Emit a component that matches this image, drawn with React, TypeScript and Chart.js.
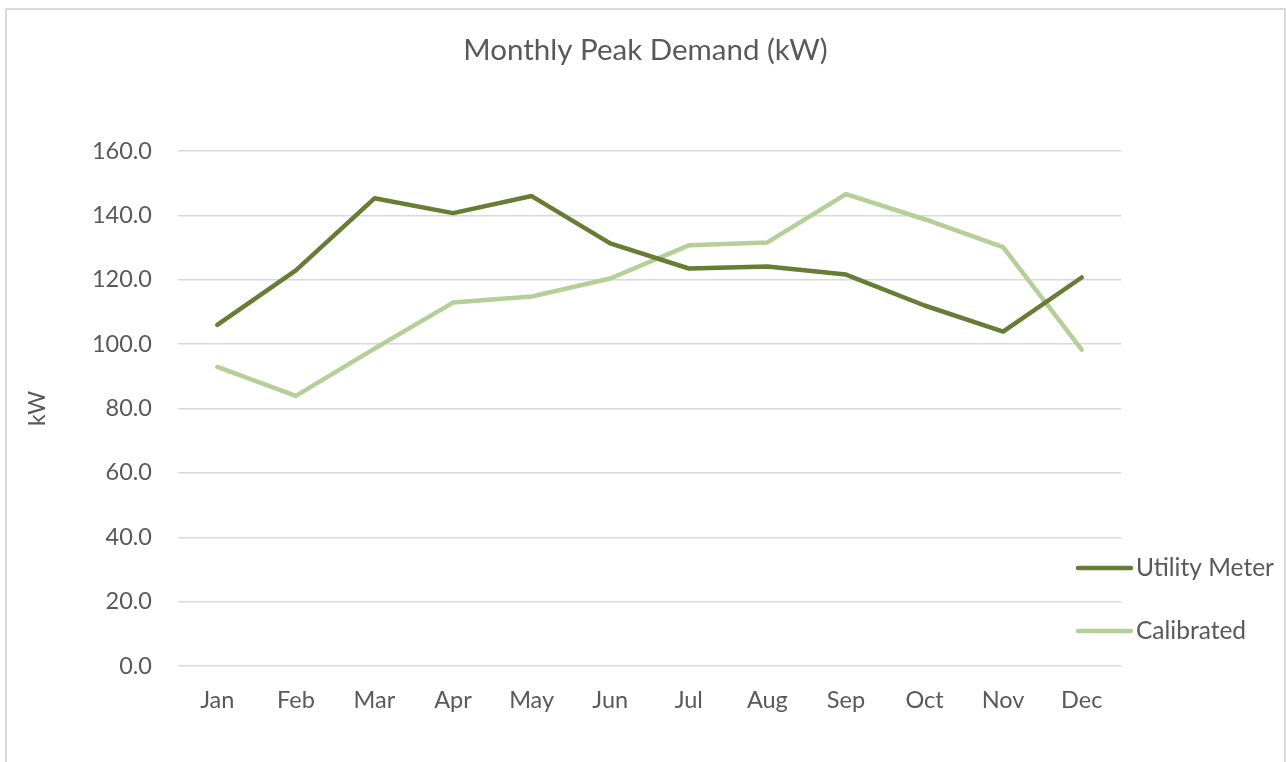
import React, { useEffect, useRef } from "react";
import { Chart, registerables } from "chart.js";

Chart.register(...registerables);

const months = ["Jan", "Feb", "Mar", "Apr", "May", "Jun", "Jul", "Aug", "Sep", "Oct", "Nov", "Dec"];
const utilityMeter = [106.0, 122.9, 145.3, 140.7, 146.0, 131.3, 123.5, 124.1, 121.6, 112.0, 103.9, 120.7];
const calibrated = [92.9, 83.9, 98.6, 112.9, 114.8, 120.4, 130.7, 131.6, 146.6, 138.8, 130.1, 98.3];
const seriesNames = ["Utility Meter", "Calibrated"];
const seriesColors = ["#677D35", "#B4CF98"];
const chartTitle = "Monthly Peak Demand (kW)";
const yTitle = "kW";

const FONT = "Lato, 'Open Sans', sans-serif";
const TEXT = "#595959";

const overlay = {
  id: "overlay",
  afterDraw(chart: any) {
    const ctx = chart.ctx;
    const area = chart.chartArea;
    ctx.save();
    ctx.fillStyle = TEXT;
    ctx.textAlign = "center";
    ctx.textBaseline = "middle";
    ctx.font = `29.5px ${FONT}`;
    ctx.fillText(chartTitle, chart.width / 2, 40);
    ctx.save();
    ctx.translate(31, (area.top + area.bottom) / 2);
    ctx.rotate(-Math.PI / 2);
    ctx.font = `23px ${FONT}`;
    ctx.fillText(yTitle, 0, 0);
    ctx.restore();
    const ys = [558, 621];
    ctx.font = `24.5px ${FONT}`;
    ctx.textAlign = "left";
    seriesNames.forEach((n, i) => {
      ctx.strokeStyle = seriesColors[i];
      ctx.lineWidth = 4.5;
      ctx.lineCap = "round";
      ctx.beginPath();
      ctx.moveTo(1071, ys[i]);
      ctx.lineTo(1124, ys[i]);
      ctx.stroke();
      ctx.fillText(n, 1129, ys[i]);
    });
    ctx.restore();
  },
};

export default function App() {
  const ref = useRef<HTMLCanvasElement>(null);
  useEffect(() => {
    const chart = new Chart(ref.current!, {
      type: "line",
      data: {
        labels: months,
        datasets: [
          { label: seriesNames[0], data: utilityMeter, borderColor: seriesColors[0], backgroundColor: seriesColors[0] },
          { label: seriesNames[1], data: calibrated, borderColor: seriesColors[1], backgroundColor: seriesColors[1] },
        ],
      },
      options: {
        responsive: false,
        animation: false,
        layout: { padding: { top: 141, right: 163, left: 0, bottom: 0 } },
        elements: {
          line: { borderWidth: 4.5, borderCapStyle: "round", borderJoinStyle: "round", tension: 0 },
          point: { radius: 0, hoverRadius: 0 },
        },
        plugins: { legend: { display: false }, title: { display: false }, tooltip: { enabled: false } },
        scales: {
          x: {
            offset: true,
            grid: { display: false, drawTicks: false },
            border: { display: false },
            ticks: { color: TEXT, font: { family: FONT, size: 23.5 }, padding: 20, maxRotation: 0 },
            afterFit: (s: any) => { s.height = 104; },
          },
          y: {
            min: 0,
            max: 160,
            ticks: { stepSize: 20, color: TEXT, font: { family: FONT, size: 23.5 }, padding: 26, callback: (v: any) => Number(v).toFixed(1) },
            grid: { color: "#D9D9D9", lineWidth: 1.5, drawTicks: false },
            border: { display: false },
            afterFit: (s: any) => { s.width = 171; },
          },
        },
      },
      plugins: [overlay],
    });
    return () => chart.destroy();
  }, []);
  return (
    <div style={{ position: "absolute", left: 5, top: 8, width: 1277, height: 760, border: "2px solid #D9D9D9", background: "#fff" }}>
      <canvas ref={ref} width={1277} height={760} style={{ display: "block" }} />
    </div>
  );
}
